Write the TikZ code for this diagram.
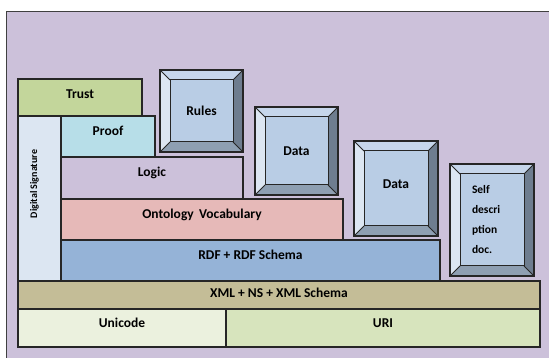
\documentclass[tikz,border=0pt]{standalone}
\usepackage{fontspec}
\setmainfont{Carlito}
\usetikzlibrary{positioning}

\definecolor{bgPurple}{HTML}{CCC1DA}
\definecolor{frameGray}{HTML}{404040}
\definecolor{boxLine}{HTML}{262626}
\definecolor{trustGreen}{HTML}{C3D69B}
\definecolor{sigBlue}{HTML}{DCE6F2}
\definecolor{proofCyan}{HTML}{B7DEE8}
\definecolor{ontoPink}{HTML}{E6B9B8}
\definecolor{rdfBlue}{HTML}{95B3D7}
\definecolor{xmlTan}{HTML}{C4BD97}
\definecolor{uniCream}{HTML}{EBF1DE}
\definecolor{uriGreen}{HTML}{D7E4BD}
\definecolor{bevelFace}{HTML}{B9CDE5}
\definecolor{bevelTop}{HTML}{C6D6EB}
\definecolor{bevelLeft}{HTML}{DCE6F2}
\definecolor{bevelRight}{HTML}{6E7D8F}
\definecolor{bevelBottom}{HTML}{8E9FB2}

\tikzset{
	layerBox/.style={
		draw=boxLine, line width=1.3pt, inner sep=0pt, outer sep=0pt,
		font=\fontsize{13.5}{16}\selectfont\bfseries,
		text height=9pt, text depth=10pt
	},
	% raised button look: four slanted faces round a flat top
	bevelBox/.style={
		draw=boxLine, line width=1.3pt, inner sep=0pt, outer sep=0pt,
		fill=bevelFace, anchor=north west,
		font=\fontsize{13.5}{16}\selectfont\bfseries,
		path picture={
			\coordinate (pNW) at (path picture bounding box.north west);
			\coordinate (pNE) at (path picture bounding box.north east);
			\coordinate (pSE) at (path picture bounding box.south east);
			\coordinate (pSW) at (path picture bounding box.south west);
			\coordinate (qNW) at ([shift={(10pt,-10pt)}]pNW);
			\coordinate (qNE) at ([shift={(-10pt,-10pt)}]pNE);
			\coordinate (qSE) at ([shift={(-10pt,10pt)}]pSE);
			\coordinate (qSW) at ([shift={(10pt,10pt)}]pSW);
			\fill[bevelTop] (pNW) -- (pNE) -- (qNE) -- (qNW) -- cycle;
			\fill[bevelLeft] (pNW) -- (qNW) -- (qSW) -- (pSW) -- cycle;
			\fill[bevelRight] (pNE) -- (pSE) -- (qSE) -- (qNE) -- cycle;
			\fill[bevelBottom] (pSW) -- (qSW) -- (qSE) -- (pSE) -- cycle;
			\draw[boxLine, line width=1pt] (qNW) rectangle (qSE);
			\draw[boxLine, line width=1pt] (pNW) -- (qNW) (pNE) -- (qNE)
				(pSE) -- (qSE) (pSW) -- (qSW);
		}
	}
}

\begin{document}
\begin{tikzpicture}[x=1pt, y=-1pt]
	\useasboundingbox (0,0) rectangle (549,358);
	\draw[frameGray, line width=0.8pt, fill=bgPurple] (6,11) rectangle (560,370);

	% the layer stack, bottom up
	\node[layerBox, fill=uniCream, minimum width=208, minimum height=38, anchor=south west] (uni) at (18,347) {Unicode};
	\node[layerBox, fill=uriGreen, minimum width=314, minimum height=38, right=0pt of uni] (uri) {URI};
	\node[layerBox, fill=xmlTan, minimum width=522, minimum height=28, text depth=4pt, above right=0pt of uni.north west] (xml) {XML + NS + XML Schema};
	\node[layerBox, fill=sigBlue, minimum width=43, minimum height=165, above right=0pt of xml.north west] (sig) {};
	\node[rotate=90, font=\fontsize{10}{12}\selectfont\bfseries] (sigText) at ([xshift=-5pt, yshift=14.5pt]sig.center) {Digital Signature};
	\node[layerBox, fill=rdfBlue, minimum width=379, minimum height=41, above right=0pt of sig.south east] (rdf) {RDF + RDF Schema};
	\node[layerBox, fill=ontoPink, minimum width=282, minimum height=41, above right=0pt of rdf.north west] (onto) {Ontology\, Vocabulary};
	\node[layerBox, fill=bgPurple, minimum width=182, minimum height=42, text depth=11pt, above right=0pt of onto.north west] (logic) {Logic};
	\node[layerBox, fill=proofCyan, minimum width=94, minimum height=41, above right=0pt of logic.north west] (proof) {Proof};
	\node[layerBox, fill=trustGreen, minimum width=124, minimum height=37, text depth=7pt, above right=0pt of sig.north west] (trust) {Trust};

	% the raised boxes
	\node[bevelBox, minimum width=83, minimum height=82] (rules) at (160,70) {Rules};
	\node[bevelBox, minimum width=83, minimum height=88] (dataA) at (255,107) {Data};
	\node[bevelBox, minimum width=84, minimum height=95, text depth=8pt] (dataB) at (354,141) {Data};
	\node[bevelBox, minimum width=84, minimum height=112, align=left, text width=40pt,
		font=\fontsize{11.5}{20}\selectfont\bfseries] (selfDoc) at (450,164) {Self\\descri\\ption\\doc.};
\end{tikzpicture}
\end{document}
